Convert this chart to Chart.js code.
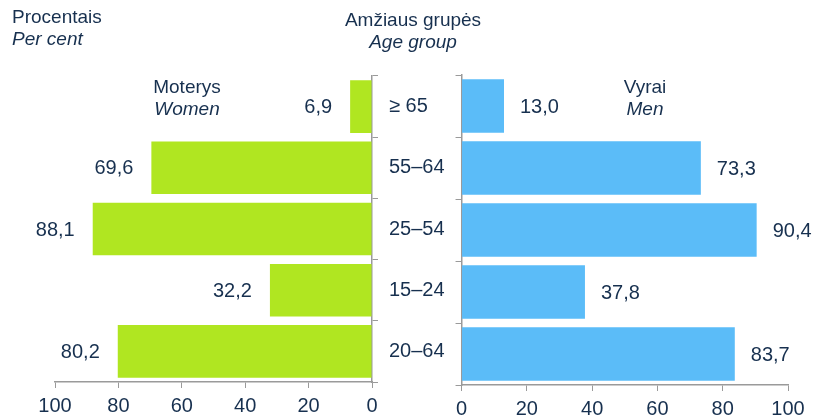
<!DOCTYPE html>
<html>
<head>
<meta charset="utf-8">
<script src="https://cdn.jsdelivr.net/npm/chart.js@4/dist/chart.umd.min.js"></script>
<style>
  body { margin: 0; background: #fff; }
  #wrap { position: relative; width: 815px; height: 419px; overflow: hidden;
          font-family: "Liberation Sans", Arial, sans-serif; color: #17304f; font-size: 19px; }
  canvas { position: absolute; top: 0; }
  .txt { position: absolute; line-height: 22px; white-space: nowrap; }
  .c { transform: translateX(-50%); text-align: center; }
  i { font-style: italic; }
</style>
</head>
<body>
<div id="wrap">
  <canvas id="women-chart" width="450" height="419" style="left:0"></canvas>
  <canvas id="men-chart" width="365" height="419" style="left:450px"></canvas>
  <div class="txt" style="left:12px; top:6px">Procentais<br><i>Per cent</i></div>
  <div class="txt c" style="left:413px; top:9px">Amžiaus grupės<br><i>Age group</i></div>
  <div class="txt c" style="left:187px; top:76px">Moterys<br><i>Women</i></div>
  <div class="txt c" style="left:645px; top:76px">Vyrai<br><i>Men</i></div>
</div>
<script>
const ageGroups = ['≥ 65', '55–64', '25–54', '15–24', '20–64'];
const women = [6.9, 69.6, 88.1, 32.2, 80.2];
const men = [13.0, 73.3, 90.4, 37.8, 83.7];
const tickValues = [0, 20, 40, 60, 80, 100];

const textColor = '#17304f';
const axisColor = '#9a9a9a';

Chart.defaults.font.family = '"Liberation Sans", Arial, sans-serif';
Chart.defaults.font.size = 20;
Chart.defaults.color = textColor;

// draws the value next to the end of every bar, with a decimal comma
const valueLabels = {
    id: 'valueLabels',
    afterDatasetsDraw(chart, args, opts) {
        const ctx = chart.ctx;
        const meta = chart.getDatasetMeta(0);
        const values = chart.data.datasets[0].data;
        ctx.save();
        ctx.font = '20px "Liberation Sans", Arial, sans-serif';
        ctx.fillStyle = textColor;
        ctx.textBaseline = 'middle';
        meta.data.forEach((bar, i) => {
            const txt = values[i].toFixed(1).replace('.', ',');
            if (opts.side === 'left') {
                ctx.textAlign = 'right';
                ctx.fillText(txt, bar.x - 18, bar.y + 1);
            } else {
                ctx.textAlign = 'left';
                ctx.fillText(txt, bar.x + 16, bar.y + 1);
            }
        });
        ctx.restore();
    }
};

function makeChart(id, data, color, side) {
    const left = side === 'left';
    return new Chart(document.getElementById(id), {
        type: 'bar',
        data: {
            labels: ageGroups,
            datasets: [{
                data: data,
                backgroundColor: color,
                barPercentage: 0.86,
                categoryPercentage: 1
            }]
        },
        options: {
            indexAxis: 'y',
            responsive: false,
            animation: false,
            devicePixelRatio: 1,
            layout: {
                padding: left ? { left: 55, top: 76, right: 0, bottom: 0 }
                              : { left: 0, top: 75, right: 27, bottom: 0 }
            },
            plugins: {
                legend: { display: false },
                tooltip: { enabled: false },
                valueLabels: { side: side }
            },
            scales: {
                x: {
                    min: 0,
                    max: 100,
                    reverse: left,
                    afterBuildTicks: s => { s.ticks = tickValues.map(v => ({ value: v })); },
                    afterFit: s => { s.height = left ? 37 : 34; },
                    grid: { drawOnChartArea: false, drawTicks: true, tickLength: 6, color: axisColor },
                    border: { display: true, color: axisColor, width: 1.5 },
                    ticks: { padding: 6, color: textColor, font: { size: 20 } }
                },
                y: {
                    position: left ? 'right' : 'left',
                    afterFit: s => { s.width = left ? 78 : 11; },
                    grid: { offset: true, drawOnChartArea: false, drawTicks: true, tickLength: 6, color: axisColor },
                    border: { display: true, color: axisColor, width: 1.5 },
                    ticks: left
                        ? { display: true, padding: 11, color: textColor, crossAlign: 'near' }
                        : { display: false }
                }
            }
        },
        plugins: [valueLabels]
    });
}

makeChart('women-chart', women, '#b0e621', 'left');
makeChart('men-chart', men, '#5bbcf8', 'right');
</script>
</body>
</html>
